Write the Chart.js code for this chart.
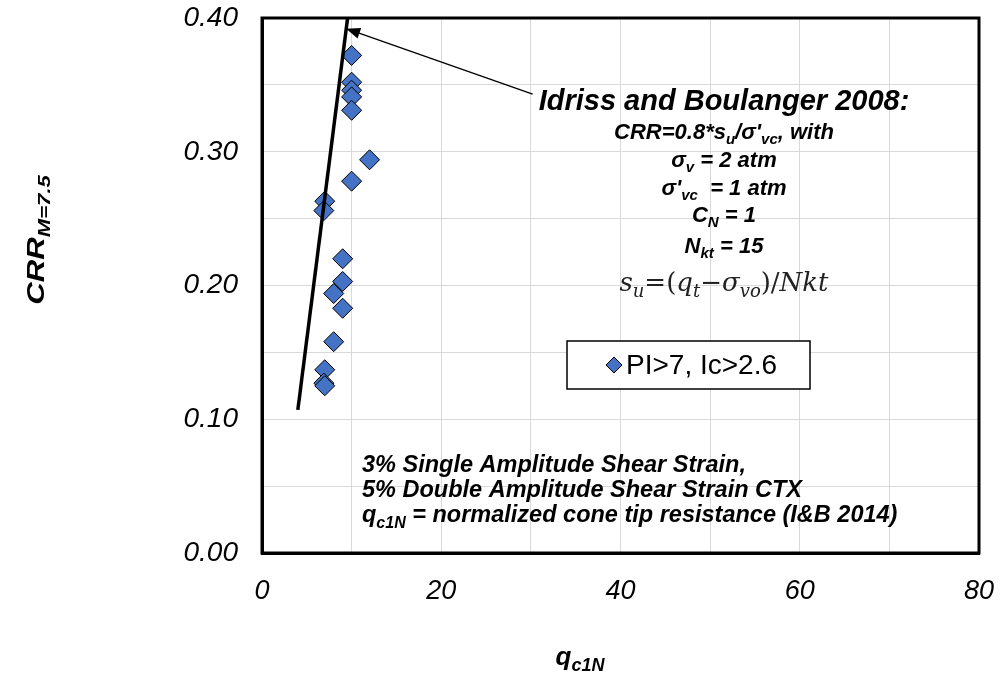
<!DOCTYPE html>
<html>
<head>
<meta charset="utf-8">
<script src="https://cdn.jsdelivr.net/npm/chart.js@4.4.1/dist/chart.umd.min.js"></script>
<style>
  html, body { margin: 0; padding: 0; background: #fff; }
  #wrap { width: 1002px; height: 684px; position: relative; }
</style>
</head>
<body>
<div id="wrap"><canvas id="c" width="1002" height="684"></canvas></div>
<script>
'use strict';

/* ── data ── */
const qc1N = [10, 10, 10, 10, 10, 12, 10, 7, 6.9, 9, 9, 8, 9, 8, 7, 6.9, 7];
const crr  = [0.372, 0.352, 0.346, 0.341, 0.331, 0.294, 0.278, 0.263, 0.256, 0.220, 0.203, 0.194, 0.183, 0.158, 0.137, 0.127, 0.125];

// Idriss & Boulanger 2008 line endpoints
const ibX = [4.0, 9.55];
const ibY = [0.107, 0.40];

const xTicks = [0, 20, 40, 60, 80];
const yTicks = [0.0, 0.1, 0.2, 0.3, 0.4];

const SANS = '"Liberation Sans", Arial, sans-serif';
const SER  = '"DejaVu Serif", "Liberation Serif", serif';

/* ── rich text: segments with optional subscript ── */
function segFont(s, size) {
  return s.font || `italic bold ${s.sub ? Math.round(size * 0.7) : size}px ${SANS}`;
}
function richText(ctx, segs, x, y, size, align) {
  let w = 0;
  segs.forEach(s => { ctx.font = segFont(s, size); w += ctx.measureText(s.t).width; });
  let cx = align === 'center' ? x - w / 2 : x;
  ctx.textAlign = 'left';
  ctx.textBaseline = 'alphabetic';
  segs.forEach(s => {
    ctx.font = segFont(s, size);
    ctx.fillText(s.t, cx, y + (s.sub ? size * 0.24 : 0));
    cx += ctx.measureText(s.t).width;
  });
}

/* ── annotations, frame, axis titles ── */
const extras = {
  id: 'extras',
  afterDraw(chart) {
    const { ctx, chartArea: a, scales: { x, y } } = chart;
    ctx.save();
    ctx.fillStyle = '#000';

    // frame
    ctx.strokeStyle = '#000';
    ctx.lineWidth = 3;
    ctx.strokeRect(a.left, a.top, a.right - a.left, a.bottom - a.top);

    // arrow from label to line
    const x0 = x.getPixelForValue(30.2), y0 = y.getPixelForValue(0.343);
    const x1 = x.getPixelForValue(9.4),  y1 = y.getPixelForValue(0.392);
    ctx.lineWidth = 1.3;
    ctx.beginPath(); ctx.moveTo(x0, y0); ctx.lineTo(x1, y1); ctx.stroke();
    const ang = Math.atan2(y1 - y0, x1 - x0);
    ctx.beginPath();
    ctx.moveTo(x1, y1);
    ctx.lineTo(x1 - 15 * Math.cos(ang - 0.38), y1 - 15 * Math.sin(ang - 0.38));
    ctx.lineTo(x1 - 15 * Math.cos(ang + 0.38), y1 - 15 * Math.sin(ang + 0.38));
    ctx.closePath(); ctx.fill();

    // I&B text block
    const cx = 724;
    richText(ctx, [{ t: 'Idriss and Boulanger 2008:' }], cx, 110, 29, 'center');
    richText(ctx, [{ t: 'CRR=0.8*s' }, { t: 'u', sub: true }, { t: '/σ\'' }, { t: 'vc', sub: true }, { t: ', with' }], cx, 139, 22, 'center');
    richText(ctx, [{ t: 'σ' }, { t: 'v', sub: true }, { t: ' = 2 atm' }], cx, 167, 22, 'center');
    richText(ctx, [{ t: 'σ\'' }, { t: 'vc', sub: true }, { t: '  = 1 atm' }], cx, 195, 22, 'center');
    richText(ctx, [{ t: 'C' }, { t: 'N', sub: true }, { t: ' = 1' }], cx, 222, 22, 'center');
    richText(ctx, [{ t: 'N' }, { t: 'kt', sub: true }, { t: ' = 15' }], cx, 253, 22, 'center');
    ctx.fillStyle = '#222';
    richText(ctx, [
      { t: 's', font: `italic 26px ${SER}` }, { t: 'u', sub: true, font: `italic 18px ${SER}` },
      { t: '=(', font: `26px ${SER}` }, { t: 'q', font: `italic 26px ${SER}` },
      { t: 't', sub: true, font: `italic 18px ${SER}` }, { t: '−', font: `26px ${SER}` },
      { t: 'σ', font: `italic 26px ${SER}` }, { t: 'vo', sub: true, font: `italic 18px ${SER}` },
      { t: ')/', font: `26px ${SER}` }, { t: 'Nkt', font: `italic 26px ${SER}` }
    ], cx, 291, 24, 'center');
    ctx.fillStyle = '#000';

    // legend box
    ctx.fillStyle = '#fff';
    ctx.fillRect(567, 341, 243, 48);
    ctx.strokeStyle = '#000';
    ctx.lineWidth = 1.5;
    ctx.strokeRect(567, 341, 243, 48);
    ctx.fillStyle = '#4472C4';
    ctx.beginPath();
    ctx.moveTo(614, 357); ctx.lineTo(622, 365); ctx.lineTo(614, 373); ctx.lineTo(606, 365); ctx.closePath();
    ctx.fill();
    ctx.lineWidth = 1; ctx.strokeStyle = '#000'; ctx.stroke();
    ctx.fillStyle = '#000';
    ctx.font = `28px ${SANS}`;
    ctx.textAlign = 'left'; ctx.textBaseline = 'middle';
    ctx.fillText('PI>7, Ic>2.6', 626, 366);

    // bottom notes
    richText(ctx, [{ t: '3% Single Amplitude Shear Strain,' }], 362, 472, 23.5, 'left');
    richText(ctx, [{ t: '5% Double Amplitude Shear Strain CTX' }], 362, 497, 23.5, 'left');
    richText(ctx, [{ t: 'q' }, { t: 'c1N', sub: true }, { t: ' = normalized cone tip resistance (I&B 2014)' }], 362, 522, 23.5, 'left');

    // axis titles
    richText(ctx, [{ t: 'q' }, { t: 'c1N', sub: true }], 580, 665, 26, 'center');
    ctx.translate(44, 240);
    ctx.rotate(-Math.PI / 2);
    ctx.scale(1.3, 1);
    richText(ctx, [{ t: 'CRR' }, { t: 'M=7.5', sub: true }], 0, 0, 24, 'center');
    ctx.restore();
  }
};

new Chart(document.getElementById('c'), {
  type: 'scatter',
  data: {
    datasets: [
      {
        label: 'PI>7, Ic>2.6',
        data: qc1N.map((v, i) => ({ x: v, y: crr[i] })),
        pointStyle: 'rectRot',
        pointRadius: 10,
        pointBackgroundColor: '#4472C4',
        pointBorderColor: '#000',
        pointBorderWidth: 1,
        order: 2
      },
      {
        label: 'Idriss and Boulanger 2008',
        data: ibX.map((v, i) => ({ x: v, y: ibY[i] })),
        showLine: true,
        borderColor: '#000',
        borderWidth: 3.5,
        pointRadius: 0,
        order: 1
      }
    ]
  },
  options: {
    responsive: false,
    animation: false,
    events: [],
    layout: { padding: { top: 18, right: 23, left: 0, bottom: 0 } },
    plugins: { legend: { display: false }, tooltip: { enabled: false } },
    scales: {
      x: {
        type: 'linear', min: 0, max: 80,
        afterFit: s => { s.height = 131; s.paddingLeft = 0; s.paddingRight = 0; },
        ticks: {
          stepSize: 10, padding: 22, color: '#000', maxRotation: 0,
          font: { family: SANS, size: 27, style: 'italic' },
          callback: v => xTicks.includes(v) ? String(v) : ''
        },
        grid: { color: '#d9d9d9', lineWidth: 1, drawTicks: false },
        border: { color: '#000', width: 3 }
      },
      y: {
        type: 'linear', min: 0, max: 0.4,
        afterFit: s => { s.width = 262; s.paddingTop = 0; s.paddingBottom = 0; },
        ticks: {
          stepSize: 0.05, padding: 24, color: '#000',
          font: { family: SANS, size: 28, style: 'italic' },
          callback: v => yTicks.some(t => Math.abs(t - v) < 1e-6) ? v.toFixed(2) : ''
        },
        grid: { color: '#d9d9d9', lineWidth: 1, drawTicks: false },
        border: { color: '#000', width: 3 }
      }
    }
  },
  plugins: [extras]
});
</script>
</body>
</html>
